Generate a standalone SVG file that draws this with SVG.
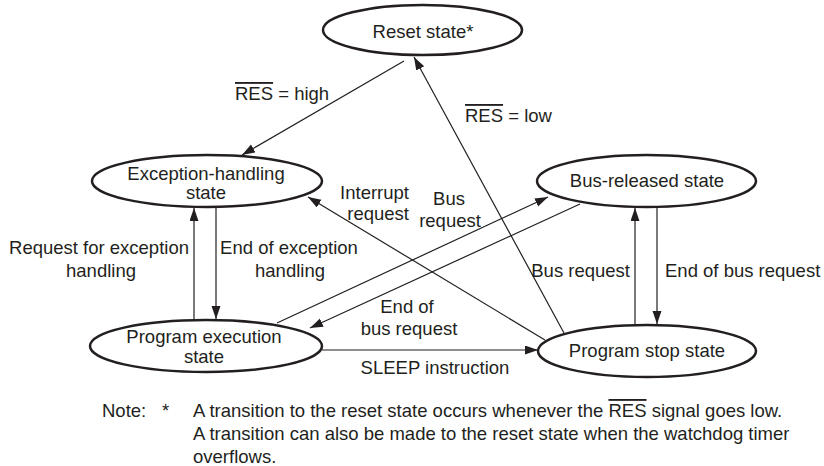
<svg xmlns="http://www.w3.org/2000/svg" width="824" height="466" viewBox="0 0 824 466">
<defs>
<marker id="ah" markerUnits="userSpaceOnUse" markerWidth="14" markerHeight="10" refX="13" refY="4.5" orient="auto">
<path d="M0,0 L13,4.5 L0,9 z" fill="#231f20"/>
</marker>
<style>
text{font-family:"Liberation Sans",Arial,sans-serif;font-size:18.5px;fill:#231f20}
.n ellipse{fill:#fff;stroke:#231f20;stroke-width:2.5}
.n text{text-anchor:middle}
#connectors line{stroke:#231f20;stroke-width:1.2;fill:none}
.arr{marker-end:url(#ah)}
.m{text-anchor:middle}
.e{text-anchor:end}
</style>
</defs>
<rect width="824" height="466" fill="#fff"/>
<g id="connectors">
<line class="arr" x1="404" y1="61" x2="242" y2="155"/>
<line class="arr" x1="564" y1="333" x2="414" y2="57"/>
<line class="arr" x1="194" y1="320" x2="194" y2="208"/>
<line class="arr" x1="216" y1="208" x2="216" y2="319"/>
<line class="arr" x1="635" y1="325" x2="635" y2="208"/>
<line class="arr" x1="657" y1="208" x2="657" y2="324"/>
<line class="arr" x1="545" y1="340" x2="308" y2="197"/>
<line class="arr" x1="277" y1="323" x2="548" y2="197"/>
<line class="arr" x1="580" y1="204" x2="310" y2="328"/>
<line class="arr" x1="322" y1="350" x2="538" y2="350"/>
</g>
<g id="labels">
<text x="235" y="100"><tspan text-decoration="overline">RES</tspan> = high</text>
<text x="465" y="122"><tspan text-decoration="overline">RES</tspan> = low</text>
<text class="m" x="99" y="254">Request for exception<tspan x="101" y="277">handling</tspan></text>
<text class="m" x="289" y="254">End of exception<tspan x="290" y="277">handling</tspan></text>
<text class="e" x="409" y="199">Interrupt<tspan x="409" y="220">request</tspan></text>
<text class="m" x="449" y="205">Bus<tspan x="450" y="227">request</tspan></text>
<text class="e" x="630" y="277">Bus request</text>
<text x="665" y="277">End of bus request</text>
<text class="m" x="407" y="313">End of<tspan x="409" y="335">bus request</tspan></text>
<text class="m" x="435" y="374">SLEEP instruction</text>
</g>
<g id="reset" class="n">
<ellipse cx="422.5" cy="30" rx="99.5" ry="25"/>
<text x="423" y="38">Reset state*</text>
</g>
<g id="exception" class="n">
<ellipse cx="207" cy="181" rx="115" ry="26"/>
<text x="206" y="180">Exception-handling</text>
<text x="206" y="199">state</text>
</g>
<g id="busreleased" class="n">
<ellipse cx="646.5" cy="181" rx="109.5" ry="26"/>
<text x="647" y="187">Bus-released state</text>
</g>
<g id="progexec" class="n">
<ellipse cx="206" cy="346" rx="116" ry="26"/>
<text x="204" y="343">Program execution</text>
<text x="204" y="363">state</text>
</g>
<g id="progstop" class="n">
<ellipse cx="647" cy="351" rx="109" ry="26"/>
<text x="647" y="357">Program stop state</text>
</g>
<g id="note">
<text x="102" y="417">Note:</text>
<text x="162" y="417">*</text>
<text x="193" y="417">A transition to the reset state occurs whenever the <tspan text-decoration="overline">RES</tspan> signal goes low.</text>
<text x="193" y="440">A transition can also be made to the reset state when the watchdog timer</text>
<text x="193" y="463">overflows.</text>
</g>
</svg>
